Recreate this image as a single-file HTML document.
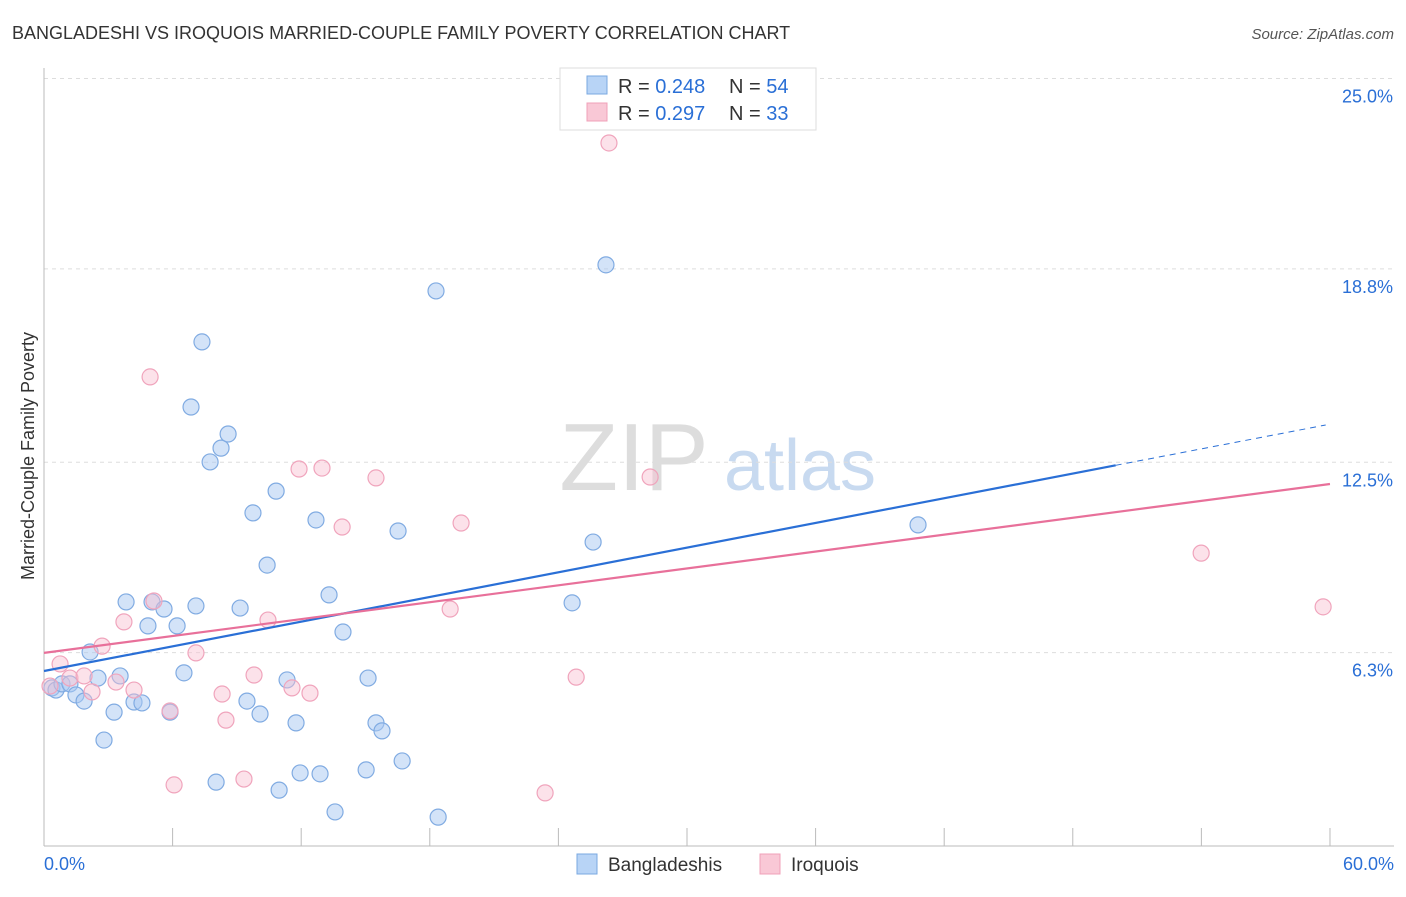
<!DOCTYPE html>
<html><head><meta charset="utf-8"><style>
body{margin:0;background:#fff;font-family:"Liberation Sans",sans-serif;}
svg text{font-family:"Liberation Sans",sans-serif;}
</style></head><body>
<svg id="chart" width="1406" height="892">
<text x="12" y="39" font-size="18" fill="#333">BANGLADESHI VS IROQUOIS MARRIED-COUPLE FAMILY POVERTY CORRELATION CHART</text>
<text x="1394" y="39" font-size="15" fill="#555" font-style="italic" text-anchor="end">Source: ZipAtlas.com</text>
<text x="634" y="490" font-size="96" fill="#ddd" font-family="Liberation Serif" text-anchor="middle">ZIP</text>
<text x="800" y="490" font-size="72" fill="#c8daf0" text-anchor="middle">atlas</text>
<text transform="translate(34,456) rotate(-90)" font-size="18" fill="#333" text-anchor="middle">Married-Couple Family Poverty</text>
<g id="grid"></g><g id="axes"></g><g id="pts"></g><g id="trends"></g>
<g>
<rect x="560" y="68" width="256" height="62" fill="#fff" stroke="#ddd"/>
<rect x="587" y="76" width="20" height="18" fill="#b8d4f6" stroke="#7aa8e0"/>
<rect x="587" y="103" width="20" height="18" fill="#f9c8d6" stroke="#f0a0b8"/>
<text x="618" y="93" font-size="20" fill="#333">R = <tspan fill="#2a6fd6">0.248</tspan></text>
<text x="729" y="93" font-size="20" fill="#333">N = <tspan fill="#2a6fd6">54</tspan></text>
<text x="618" y="120" font-size="20" fill="#333">R = <tspan fill="#2a6fd6">0.297</tspan></text>
<text x="729" y="120" font-size="20" fill="#333">N = <tspan fill="#2a6fd6">33</tspan></text>
</g>
<g>
<rect x="577" y="854" width="20" height="20" fill="#b8d4f6" stroke="#7aa8e0"/>
<text x="608" y="871" font-size="19" fill="#333">Bangladeshis</text>
<rect x="760" y="854" width="20" height="20" fill="#f9c8d6" stroke="#f0a0b8"/>
<text x="791" y="871" font-size="19" fill="#333">Iroquois</text>
</g>
</svg>
<script>
const yTicks=[25.0,18.8,12.5,6.3];
const yTickLabels=["25.0%","18.8%","12.5%","6.3%"];
const xTicks=[0,6,12,18,24,30,36,42,48,54,60];
const blueX=[0.37,0.56,0.84,1.21,1.49,1.87,2.15,2.52,2.80,3.27,3.55,3.83,4.20,4.57,4.85,5.04,5.60,5.88,6.21,6.53,6.86,7.09,7.37,7.75,8.03,8.26,8.59,9.15,9.47,9.75,10.08,10.41,10.83,10.97,11.34,11.76,11.95,12.69,12.88,13.30,13.58,13.95,15.03,15.12,15.49,15.77,16.52,16.71,18.29,18.39,24.64,25.62,26.22,40.78];
const blueY=[5.15,5.08,5.28,5.28,4.92,4.72,6.32,5.47,3.45,4.36,5.54,7.95,4.69,4.66,7.17,7.95,7.72,4.36,7.17,5.64,14.30,7.82,16.42,12.51,2.08,12.96,13.42,7.75,4.72,10.85,4.30,9.15,11.56,1.82,5.41,4.01,2.38,10.62,2.35,8.18,1.11,6.97,2.48,5.47,4.01,3.75,10.26,2.77,18.08,0.94,7.92,9.90,18.93,10.46];
const pinkX=[0.28,0.75,1.21,1.87,2.24,2.71,3.36,3.73,4.20,4.95,5.13,5.88,6.07,7.09,8.31,8.49,9.33,9.80,10.45,11.57,11.90,12.41,12.97,13.91,15.49,18.95,19.46,23.38,24.83,26.36,28.28,53.99,59.68];
const pinkY=[5.21,5.93,5.47,5.54,5.02,6.51,5.34,7.30,5.08,15.28,7.98,4.40,1.99,6.29,4.95,4.10,2.18,5.57,7.36,5.15,12.28,4.98,12.31,10.39,11.99,7.72,10.52,1.73,5.50,22.90,12.02,9.54,7.79];
const blueTrend=[5.70,0.134];
const pinkTrend=[6.29,0.0917];
const NS="http://www.w3.org/2000/svg";
const sx=v=>44+v*21.433, sy=v=>846-v*30.7;
function mk(parent,tag,attrs){const e=document.createElementNS(NS,tag);for(const k in attrs)e.setAttribute(k,attrs[k]);document.getElementById(parent).appendChild(e);return e;}
yTicks.forEach((t,i)=>{
 const l=mk('grid','line',{x1:44,x2:1394,y1:sy(t),y2:sy(t),stroke:'#ddd','stroke-dasharray':'4,4'});
 
 
 const tx=mk('grid','text',{x:1393,y:sy(t)+24,'font-size':18,fill:'#2a6fd6','text-anchor':'end'});
 tx.textContent=yTickLabels[i];
 
 
});
let a=mk('axes','line',{x1:44,x2:44,y1:68,y2:846,stroke:'#bbb'});


a=mk('axes','line',{x1:44,x2:1394,y1:846,y2:846,stroke:'#bbb'});


xTicks.forEach(t=>{const l=mk('axes','line',{x1:sx(t),x2:sx(t),y1:828,y2:846,stroke:'#bbb'});
 
 });
let tl=mk('axes','text',{x:44,y:870,'font-size':18,fill:'#2a6fd6'});tl.textContent='0.0%';


tl=mk('axes','text',{x:1394,y:870,'font-size':18,fill:'#2a6fd6','text-anchor':'end'});tl.textContent='60.0%';


blueX.forEach((x,i)=>{const c=mk('pts','circle',{cx:sx(x),cy:sy(blueY[i]),r:8,fill:'rgba(168,200,242,0.5)',stroke:'#80abe2','stroke-width':1.2});
 
 });
pinkX.forEach((x,i)=>{const c=mk('pts','circle',{cx:sx(x),cy:sy(pinkY[i]),r:8,fill:'rgba(248,190,208,0.45)',stroke:'#f0a4bc','stroke-width':1.2});
 
 });
let t=mk('trends','line',{x1:sx(0),y1:sy(blueTrend[0]),x2:sx(50),y2:sy(blueTrend[0]+blueTrend[1]*50),stroke:'#2a6fd6','stroke-width':2.2});


t=mk('trends','line',{x1:sx(50),y1:sy(blueTrend[0]+blueTrend[1]*50),x2:sx(59.8),y2:sy(blueTrend[0]+blueTrend[1]*59.8),stroke:'#2a6fd6','stroke-width':1,'stroke-dasharray':'6,5'});


t=mk('trends','line',{x1:sx(0),y1:sy(pinkTrend[0]),x2:sx(60),y2:sy(pinkTrend[0]+pinkTrend[1]*60),stroke:'#e8709a','stroke-width':2.2});


</script>
</body></html>
